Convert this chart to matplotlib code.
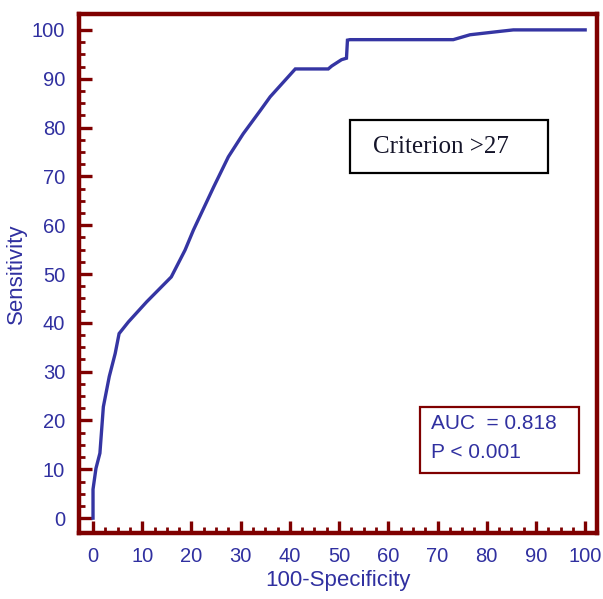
import matplotlib
matplotlib.use("Agg")
import matplotlib.pyplot as plt
from matplotlib.ticker import MultipleLocator, FixedLocator
from matplotlib.patches import Rectangle

# ROC curve points (100-Specificity, Sensitivity)
fpr = [0.0, 0.0, 0.6, 1.4, 2.1, 3.3, 4.5, 5.3, 7.2, 10.9, 15.9, 18.7, 20.4, 24.5,
       27.5, 30.5, 34.0, 36.0, 39.4, 41.1, 47.8, 48.5, 50.5, 51.5, 51.7, 52.2,
       73.2, 76.6, 82.7, 85.4, 100.0]
sens = [0.0, 5.9, 10.2, 13.3, 22.8, 29.0, 33.7, 37.8, 40.2, 44.3, 49.4, 54.9, 59.0,
        67.8, 74.0, 78.7, 83.5, 86.3, 90.1, 92.0, 92.0, 92.6, 93.9, 94.2, 97.9, 98.0,
        98.0, 99.0, 99.7, 100.0, 100.0]

xlabel = "100-Specificity"
ylabel = "Sensitivity"
criterion_text = "Criterion >27"
auc_line1 = "AUC  = 0.818"
auc_line2 = "P < 0.001"

spine_c = "#7f0000"
blue = "#3030a0"
line_c = "#3535a3"

plt.rcParams['font.family'] = ['Liberation Sans', 'DejaVu Sans']

fig = plt.figure(figsize=(6.03, 5.99), dpi=100)
ax = fig.add_axes([0.131, 0.110, 0.859, 0.867])

ax.plot(fpr, sens, color=line_c, lw=2.4, solid_joinstyle='miter', zorder=3)

ax.set_xlim(-2.85, 102.4)
ax.set_ylim(-3.07, 103.3)

ax.xaxis.set_major_locator(MultipleLocator(10))
ax.yaxis.set_major_locator(MultipleLocator(10))
minor_pos = [i * 2.5 for i in range(41)]
ax.xaxis.set_minor_locator(FixedLocator(minor_pos))
ax.yaxis.set_minor_locator(FixedLocator(minor_pos))

for s in ax.spines.values():
    s.set_color(spine_c)
    s.set_linewidth(3.2)

ax.tick_params(which='major', direction='in', length=9, width=2.4, color=spine_c,
               labelcolor=blue, labelsize=14.5, pad=10)
ax.tick_params(which='minor', direction='in', length=4.5, width=2.0, color=spine_c)
ax.tick_params(top=False, right=False, which='both')

ax.set_xlabel(xlabel, color=blue, fontsize=16, va='center')
ax.set_ylabel(ylabel, color=blue, fontsize=16, va='center')
ax.xaxis.set_label_coords(0.5, -0.0906)
ax.yaxis.set_label_coords(-0.120, 0.5)

# Criterion box
ax.add_patch(Rectangle((0.523, 0.694), 0.382, 0.102, transform=ax.transAxes,
                       fill=False, edgecolor='black', lw=1.6, zorder=4))
ax.text(0.699, 0.744, criterion_text, transform=ax.transAxes, ha='center', va='center',
        fontsize=18, family=['Liberation Serif'], color='#15152a', zorder=5)

# AUC box
ax.add_patch(Rectangle((0.658, 0.116), 0.307, 0.127, transform=ax.transAxes,
                       fill=False, edgecolor=spine_c, lw=1.6, zorder=4))
ax.text(0.680, 0.212, auc_line1, transform=ax.transAxes, ha='left', va='center',
        fontsize=15, color=blue, zorder=5)
ax.text(0.680, 0.156, auc_line2, transform=ax.transAxes, ha='left', va='center',
        fontsize=15, color=blue, zorder=5)

fig.savefig("out.png", dpi=100)
